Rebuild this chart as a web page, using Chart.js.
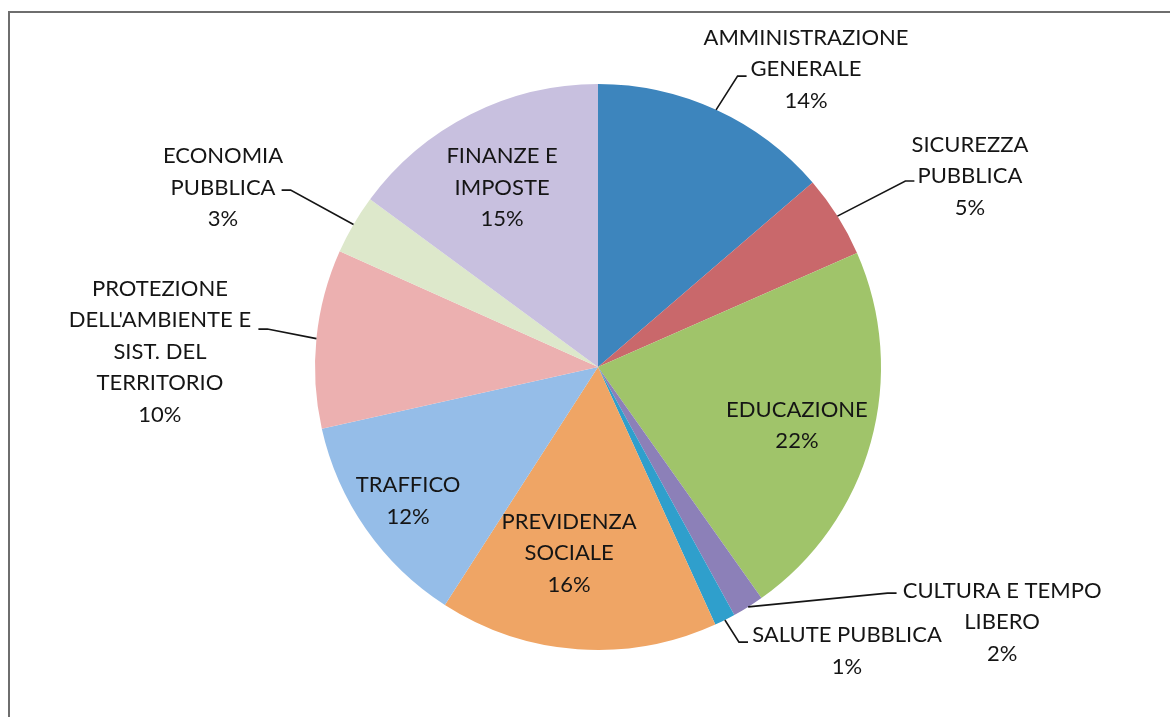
<!DOCTYPE html>
<html>
<head>
<meta charset="utf-8">
<script src="https://cdn.jsdelivr.net/npm/chart.js@4"></script>
<style>
    html, body { margin: 0; padding: 0; background: #ffffff; }
    #wrap { width: 1170px; height: 717px; }
</style>
</head>
<body>
<div id="wrap"><canvas id="pie-chart" width="1170" height="717"></canvas></div>
<script>
// categories (label lines) and shares
const categories = [
    ['AMMINISTRAZIONE', 'GENERALE'],
    ['SICUREZZA', 'PUBBLICA'],
    ['EDUCAZIONE'],
    ['CULTURA E TEMPO', 'LIBERO'],
    ['SALUTE PUBBLICA'],
    ['PREVIDENZA', 'SOCIALE'],
    ['TRAFFICO'],
    ['PROTEZIONE', "DELL'AMBIENTE E", 'SIST. DEL', 'TERRITORIO'],
    ['ECONOMIA', 'PUBBLICA'],
    ['FINANZE E', 'IMPOSTE']
];
const shares = [13.7, 4.7, 21.8, 1.8, 1.2, 15.9, 12.4, 10.2, 3.4, 14.9];

const sliceColors = [
    '#3d85bd', '#c9686b', '#a0c46a', '#8c80b8', '#2f9fcc',
    '#efa565', '#95bde8', '#ecb0b0', '#dde8cb', '#c8c0df'
];

// label block centres and leader ends, in units of the pie radius from its centre
const labelPos = [
    [0.735, -1.053], [1.314, -0.675], [0.703, 0.207], [1.428, 0.901], [0.880, 1.004],
    [-0.102, 0.657], [-0.671, 0.473], [-1.548, -0.055], [-1.325, -0.633], [-0.339, -0.633]
];
const leaderEnd = [
    [0.525, -1.028], [1.118, -0.657], null, [1.055, 0.799], [0.530, 0.972],
    null, null, [-1.200, -0.134], [-1.118, -0.625], null
];

const FONT = '22px Lato, "Open Sans", sans-serif';
const LINE_H = 31.5;

const frame = {
    id: 'frame',
    beforeDraw(chart) {
        const ctx = chart.ctx;
        ctx.save();
        ctx.fillStyle = '#ffffff';
        ctx.fillRect(0, 0, chart.width, chart.height);
        ctx.strokeStyle = '#6e6e6e';
        ctx.lineWidth = 2;
        ctx.beginPath();
        ctx.moveTo(9, chart.height);
        ctx.lineTo(9, 12);
        ctx.lineTo(chart.width, 12);
        ctx.stroke();
        ctx.restore();
    }
};

const sliceLabels = {
    id: 'sliceLabels',
    afterDatasetsDraw(chart) {
        const ctx = chart.ctx;
        const meta = chart.getDatasetMeta(0);
        const total = shares.reduce((a, b) => a + b, 0);
        ctx.save();
        ctx.font = FONT;
        ctx.fillStyle = '#151515';
        ctx.textAlign = 'center';
        ctx.textBaseline = 'middle';
        meta.data.forEach(function (arc, i) {
            const p = arc.getProps(['x', 'y', 'startAngle', 'endAngle', 'outerRadius'], true);
            const r = p.outerRadius;
            const lines = categories[i].concat([Math.round(shares[i] / total * 100) + '%']);
            const cx = p.x + labelPos[i][0] * r;
            const cy = p.y + labelPos[i][1] * r;
            const top = cy - (lines.length - 1) * LINE_H / 2;
            lines.forEach(function (txt, k) {
                ctx.fillText(txt, cx, top + k * LINE_H);
            });

            if (leaderEnd[i]) {
                const mid = (p.startAngle + p.endAngle) / 2;
                const sx = p.x + Math.cos(mid) * r;
                const sy = p.y + Math.sin(mid) * r;
                const ex = p.x + leaderEnd[i][0] * r;
                const ey = p.y + leaderEnd[i][1] * r;
                const bx = ex < p.x ? ex + 9 : ex - 9;
                ctx.strokeStyle = '#151515';
                ctx.lineWidth = 1.6;
                ctx.beginPath();
                ctx.moveTo(sx, sy);
                ctx.lineTo(bx, ey);
                ctx.lineTo(ex, ey);
                ctx.stroke();
            }
        });
        ctx.restore();
    }
};

new Chart(document.getElementById('pie-chart').getContext('2d'), {
    type: 'pie',
    data: {
        labels: categories.map(c => c.join(' ')),
        datasets: [{
            data: shares,
            backgroundColor: sliceColors,
            borderWidth: 0
        }]
    },
    options: {
        responsive: false,
        animation: false,
        layout: {
            padding: { left: 315, right: 289, top: 84, bottom: 67 }
        },
        plugins: {
            legend: { display: false },
            tooltip: { enabled: false }
        }
    },
    plugins: [frame, sliceLabels]
});
</script>
</body>
</html>
